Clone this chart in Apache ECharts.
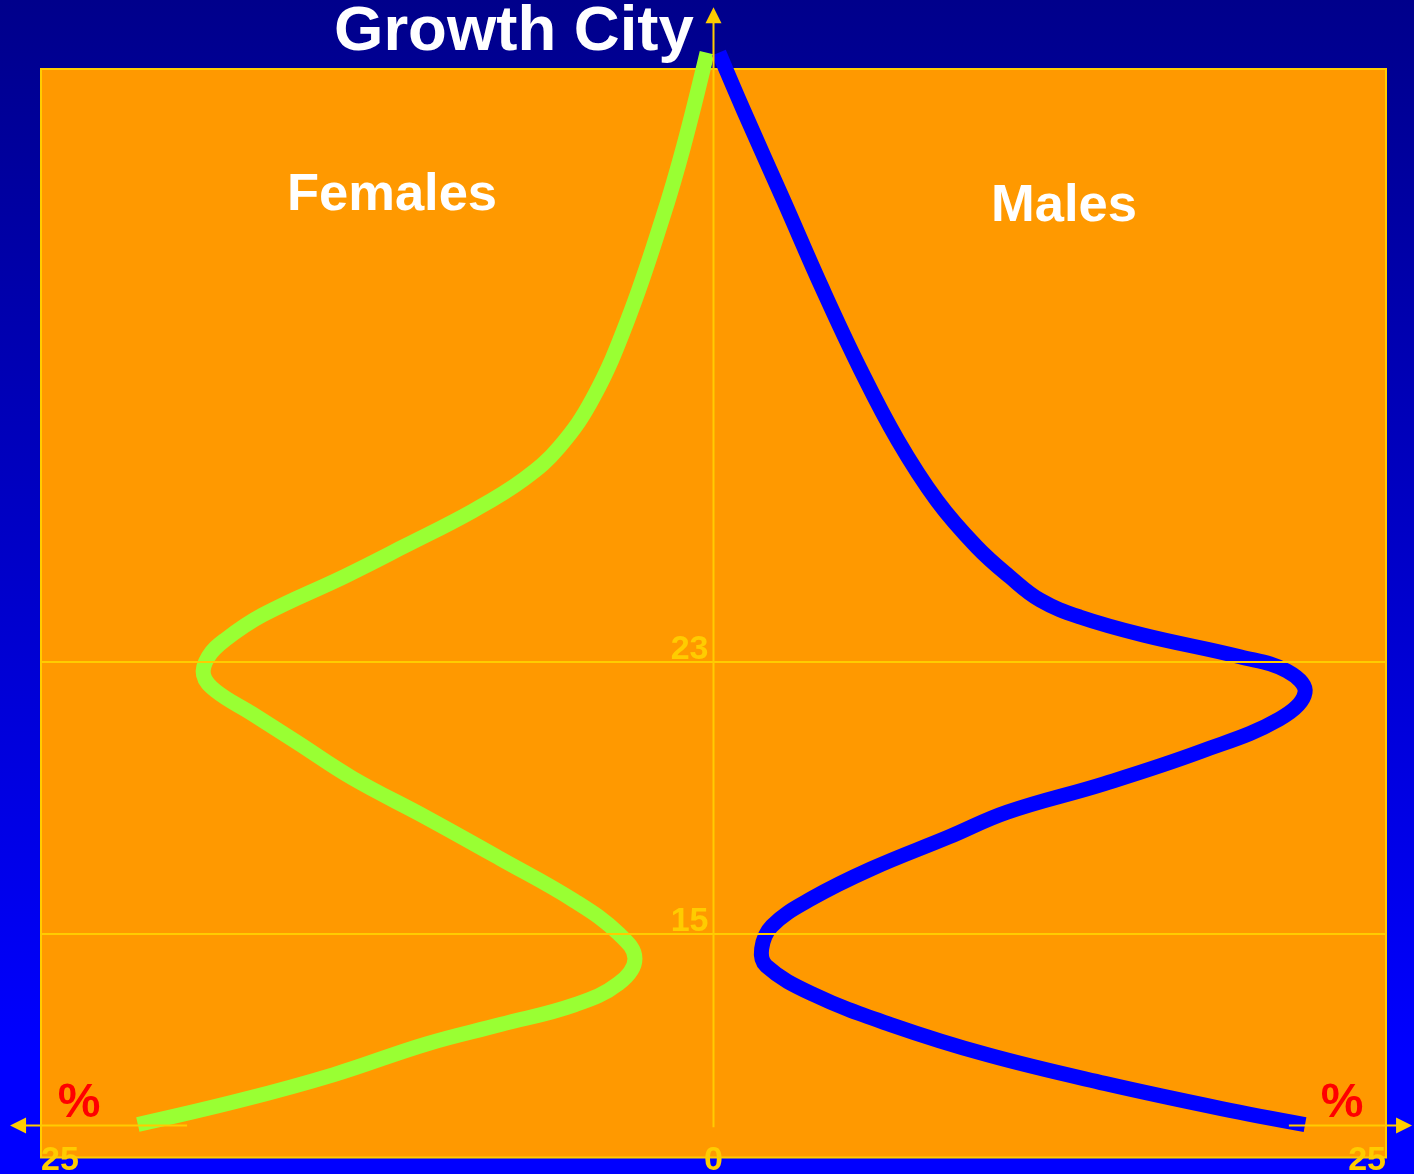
<!DOCTYPE html>
<html>
<head>
<meta charset="utf-8">
<script src="https://cdn.jsdelivr.net/npm/echarts@6/dist/echarts.min.js"></script>
<style>
html,body{margin:0;padding:0;}
#c{width:1414px;height:1174px;background:linear-gradient(to bottom,#00008B 0%,#0000FF 90%);}
</style>
</head>
<body>
<div id="c"></div>
<script>
// ---- data (x = percent, negative for females; y = axis value) ----
const femaleX = [-21.40,-17.55,-14.11,-10.67,-7.92,-5.17,-3.53,-2.92,-3.53,-5.17,-7.92,-10.67,-13.42,-15.48,-17.14,-18.51,-18.96,-18.78,-18.17,-16.76,-13.70,-11.47,-8.95,-7.04,-5.73,-4.46,-3.17,-1.90,-1.12,-0.24];
const femaleY = [9.38,10.10,10.85,11.75,12.32,12.90,13.53,14.26,15.00,15.96,17.20,18.41,19.57,20.62,21.46,22.14,22.61,23.14,23.63,24.37,25.51,26.40,27.43,28.37,29.31,30.78,33.09,36.03,38.13,40.91];
const maleX = [21.99,18.88,14.54,10.19,6.58,3.68,1.96,1.79,2.17,3.68,5.86,8.75,10.92,14.54,18.14,21.04,21.99,21.32,19.57,15.97,13.62,12.14,11.02,9.79,8.31,6.85,5.45,4.07,2.62,1.13,0.20];
const maleY = [9.38,9.85,10.59,11.43,12.32,13.22,14.05,14.55,15.22,16.04,16.90,17.84,18.57,19.41,20.36,21.31,22.09,22.72,23.14,23.78,24.31,24.81,25.49,26.37,27.73,29.51,31.61,33.93,36.54,39.19,40.91];
const xTicks = [-25, 0, 25];
const yTicks = [15, 23];
const titleText = 'Growth City';
const femaleLabel = 'Females';
const maleLabel = 'Males';
const unitLabel = '%';

// ---- axis geometry (data units) ----
const X_MIN = -25, X_MAX = 25, Y_MIN = 8.41, Y_MAX = 40.43;
const AXIS_LEVEL = 9.35;
const LEFT_TIP = -26.15, LEFT_END = -19.57, RIGHT_START = 21.39, RIGHT_TIP = 25.97, TOP_TIP = 42.25;

// ---- layout ----
const GRID = {left: 41, right: 28, top: 69, bottom: 16.5};
const CHART_W = 1414;
const gridW = CHART_W - GRID.left - GRID.right;

const YELLOW = '#FFCC00';
const FONT = '"Liberation Sans", Arial, Helvetica, sans-serif';

// smooth curve drawn through the data points via the chart's own coordinate system
function curveSeries(name, xs, ys, color) {
  return {
    type: 'custom', name: name, coordinateSystem: 'cartesian2d',
    data: xs.map((x, i) => [x, ys[i]]),
    encode: {x: 0, y: 1},
    silent: true, clip: false,
    renderItem: function (params, api) {
      if (params.dataIndex !== 0) return null;
      const pts = xs.map((x, i) => api.coord([x, ys[i]]));
      return {
        type: 'polyline',
        shape: {points: pts, smooth: 0.4},
        style: {stroke: color, lineWidth: 15, fill: null, lineCap: 'butt', lineJoin: 'round'}
      };
    }
  };
}

const chart = echarts.init(document.getElementById('c'), null, {renderer: 'canvas'});

const option = {
  backgroundColor: 'transparent',
  animation: false,
  title: {
    text: titleText,
    left: 334, top: 0, padding: 0,
    textStyle: {color: '#FFFFFF', fontSize: 63.5, fontWeight: 'bold', fontFamily: FONT}
  },
  grid: {
    left: GRID.left, right: GRID.right, top: GRID.top, bottom: GRID.bottom,
    show: true, backgroundColor: '#FF9900', borderColor: YELLOW, borderWidth: 2,
    containLabel: false, outerBoundsMode: 'none'
  },
  xAxis: {
    type: 'value', min: X_MIN, max: X_MAX, interval: 25,
    axisLine: {show: false}, axisTick: {show: false}, splitLine: {show: false},
    axisLabel: {
      formatter: v => String(Math.abs(v)),
      color: YELLOW, fontSize: 34, fontWeight: 'bold', fontFamily: FONT,
      margin: 3, verticalAlign: 'middle',
      alignMinLabel: 'left', alignMaxLabel: 'right',
      customValues: xTicks
    }
  },
  yAxis: {
    type: 'value', min: Y_MIN, max: Y_MAX, position: 'left',
    offset: -gridW / 2,
    axisLine: {show: false, onZero: false},
    axisTick: {show: false, customValues: yTicks},
    splitLine: {show: false},
    axisLabel: {
      customValues: yTicks,
      color: YELLOW, fontSize: 34, fontWeight: 'bold', fontFamily: FONT,
      margin: 5, verticalAlign: 'bottom', lineHeight: 24
    }
  },
  series: [
    curveSeries(femaleLabel, femaleX, femaleY, '#99FF33'),
    curveSeries(maleLabel, maleX, maleY, '#0000FF'),
    {
      type: 'line', name: 'grid', data: [], silent: true,
      symbol: 'none', lineStyle: {opacity: 0},
      markLine: {
        silent: true, symbol: 'none', animation: false, z: 10,
        label: {show: false},
        lineStyle: {color: YELLOW, width: 2, type: 'solid', opacity: 1},
        data: yTicks.map(v => ({yAxis: v}))
      }
    }
  ]
};
chart.setOption(option);

// ---- axis lines with arrows and free labels ----
const P = (x, y) => chart.convertToPixel({gridIndex: 0}, [x, y]);
const lt = P(LEFT_TIP, AXIS_LEVEL), le = P(LEFT_END, AXIS_LEVEL);
const rs = P(RIGHT_START, AXIS_LEVEL), rt = P(RIGHT_TIP, AXIS_LEVEL);
const vb = P(0, AXIS_LEVEL - 0.05), vt = P(0, TOP_TIP);
const AL = 16, AW = 8;
const lineStyle = {stroke: YELLOW, lineWidth: 2};
const fillStyle = {fill: YELLOW};
const txt = (t, x, y, size, color) => ({
  type: 'text', x: x, y: y, z: 100, silent: true,
  style: {text: t, fill: color, font: 'bold ' + size + 'px ' + FONT, textAlign: 'center', textVerticalAlign: 'middle'}
});
chart.setOption({
  graphic: [
    {type: 'line', z: 100, silent: true, shape: {x1: lt[0] + AL - 1, y1: lt[1], x2: le[0], y2: le[1]}, style: lineStyle},
    {type: 'polygon', z: 100, silent: true, shape: {points: [[lt[0], lt[1]], [lt[0] + AL, lt[1] - AW], [lt[0] + AL, lt[1] + AW]]}, style: fillStyle},
    {type: 'line', z: 100, silent: true, shape: {x1: rs[0], y1: rs[1], x2: rt[0] - AL + 1, y2: rt[1]}, style: lineStyle},
    {type: 'polygon', z: 100, silent: true, shape: {points: [[rt[0], rt[1]], [rt[0] - AL, rt[1] - AW], [rt[0] - AL, rt[1] + AW]]}, style: fillStyle},
    {type: 'line', z: 100, silent: true, shape: {x1: vb[0], y1: vb[1], x2: vt[0], y2: vt[1] + AL - 1}, style: lineStyle},
    {type: 'polygon', z: 100, silent: true, shape: {points: [[vt[0], vt[1]], [vt[0] - AW, vt[1] + AL], [vt[0] + AW, vt[1] + AL]]}, style: fillStyle},
    txt(femaleLabel, 392, 196, 52.5, '#FFFFFF'),
    txt(maleLabel, 1064, 207, 52.5, '#FFFFFF'),
    txt(unitLabel, 79, 1104, 48, '#FF0000'),
    txt(unitLabel, 1342, 1104, 48, '#FF0000')
  ]
});
</script>
</body>
</html>
